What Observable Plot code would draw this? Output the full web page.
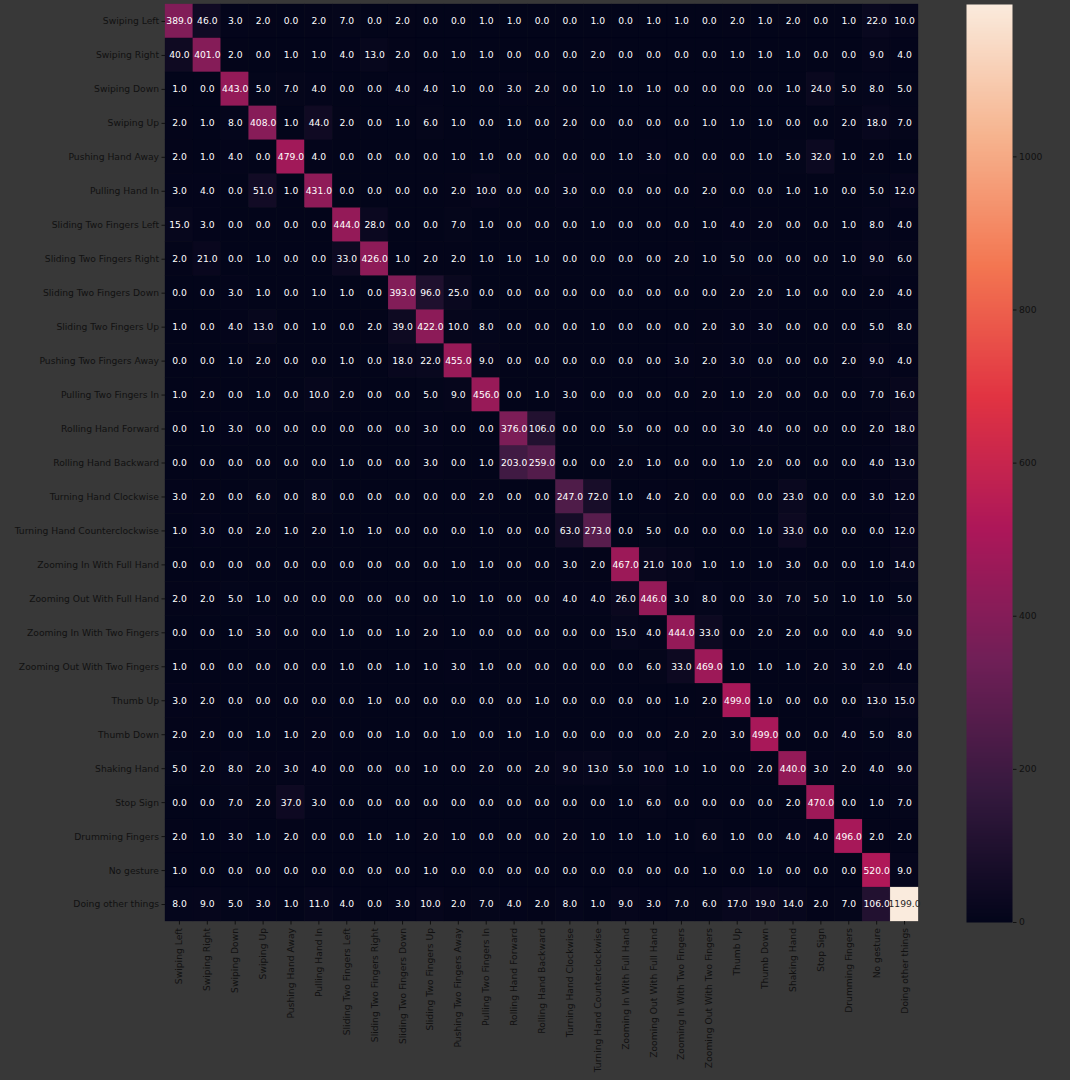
<!DOCTYPE html>
<html><head><meta charset="utf-8">
<script src="https://cdn.jsdelivr.net/npm/d3@7"></script>
<script src="https://cdn.jsdelivr.net/npm/@observablehq/plot@0.6"></script>
<style>
html,body{margin:0;padding:0;background:#383838;}
#wrap{position:relative;width:1070px;height:1080px;background:#383838;overflow:hidden;}
#main{position:absolute;left:0;top:0;}
#cbar{position:absolute;left:940px;top:0;}
</style></head>
<body><div id="wrap"><div id="main"></div><div id="cbar"></div></div>
<script>
const labels = ["Swiping Left","Swiping Right","Swiping Down","Swiping Up","Pushing Hand Away","Pulling Hand In","Sliding Two Fingers Left","Sliding Two Fingers Right","Sliding Two Fingers Down","Sliding Two Fingers Up","Pushing Two Fingers Away","Pulling Two Fingers In","Rolling Hand Forward","Rolling Hand Backward","Turning Hand Clockwise","Turning Hand Counterclockwise","Zooming In With Full Hand","Zooming Out With Full Hand","Zooming In With Two Fingers","Zooming Out With Two Fingers","Thumb Up","Thumb Down","Shaking Hand","Stop Sign","Drumming Fingers","No gesture","Doing other things"];

// rows = actual class, columns = predicted class
const counts = [
[389,46,3,2,0,2,7,0,2,0,0,1,1,0,0,1,0,1,1,0,2,1,2,0,1,22,10],
[40,401,2,0,1,1,4,13,2,0,1,1,0,0,0,2,0,0,0,0,1,1,1,0,0,9,4],
[1,0,443,5,7,4,0,0,4,4,1,0,3,2,0,1,1,1,0,0,0,0,1,24,5,8,5],
[2,1,8,408,1,44,2,0,1,6,1,0,1,0,2,0,0,0,0,1,1,1,0,0,2,18,7],
[2,1,4,0,479,4,0,0,0,0,1,1,0,0,0,0,1,3,0,0,0,1,5,32,1,2,1],
[3,4,0,51,1,431,0,0,0,0,2,10,0,0,3,0,0,0,0,2,0,0,1,1,0,5,12],
[15,3,0,0,0,0,444,28,0,0,7,1,0,0,0,1,0,0,0,1,4,2,0,0,1,8,4],
[2,21,0,1,0,0,33,426,1,2,2,1,1,1,0,0,0,0,2,1,5,0,0,0,1,9,6],
[0,0,3,1,0,1,1,0,393,96,25,0,0,0,0,0,0,0,0,0,2,2,1,0,0,2,4],
[1,0,4,13,0,1,0,2,39,422,10,8,0,0,0,1,0,0,0,2,3,3,0,0,0,5,8],
[0,0,1,2,0,0,1,0,18,22,455,9,0,0,0,0,0,0,3,2,3,0,0,0,2,9,4],
[1,2,0,1,0,10,2,0,0,5,9,456,0,1,3,0,0,0,0,2,1,2,0,0,0,7,16],
[0,1,3,0,0,0,0,0,0,3,0,0,376,106,0,0,5,0,0,0,3,4,0,0,0,2,18],
[0,0,0,0,0,0,1,0,0,3,0,1,203,259,0,0,2,1,0,0,1,2,0,0,0,4,13],
[3,2,0,6,0,8,0,0,0,0,0,2,0,0,247,72,1,4,2,0,0,0,23,0,0,3,12],
[1,3,0,2,1,2,1,1,0,0,0,1,0,0,63,273,0,5,0,0,0,1,33,0,0,0,12],
[0,0,0,0,0,0,0,0,0,0,1,1,0,0,3,2,467,21,10,1,1,1,3,0,0,1,14],
[2,2,5,1,0,0,0,0,0,0,1,1,0,0,4,4,26,446,3,8,0,3,7,5,1,1,5],
[0,0,1,3,0,0,1,0,1,2,1,0,0,0,0,0,15,4,444,33,0,2,2,0,0,4,9],
[1,0,0,0,0,0,1,0,1,1,3,1,0,0,0,0,0,6,33,469,1,1,1,2,3,2,4],
[3,2,0,0,0,0,0,1,0,0,0,0,0,1,0,0,0,0,1,2,499,1,0,0,0,13,15],
[2,2,0,1,1,2,0,0,1,0,1,0,1,1,0,0,0,0,2,2,3,499,0,0,4,5,8],
[5,2,8,2,3,4,0,0,0,1,0,2,0,2,9,13,5,10,1,1,0,2,440,3,2,4,9],
[0,0,7,2,37,3,0,0,0,0,0,0,0,0,0,0,1,6,0,0,0,0,2,470,0,1,7],
[2,1,3,1,2,0,0,1,1,2,1,0,0,0,2,1,1,1,1,6,1,0,4,4,496,2,2],
[1,0,0,0,0,0,0,0,0,1,0,0,0,0,0,0,0,0,0,1,0,1,0,0,0,520,9],
[8,9,5,3,1,11,4,0,3,10,2,7,4,2,8,1,9,3,7,6,17,19,14,2,7,106,1199]
];

const colorbarTicks = [0,200,400,600,800,1000];
const rocketStops = ["#03051a","#35193e","#701f57","#ad1759","#e13342","#f37651","#f6b48f","#faebdd"];
const rocket = d3.piecewise(d3.interpolateRgb, rocketStops);

const vmax = d3.max(counts.flat());
const table = counts.flatMap((row, i) => row.map((v, j) => ({actual: labels[i], predicted: labels[j], value: v})));
const font = "'DejaVu Sans', sans-serif";
const fs = 9.2;

const main = Plot.plot({
  width: 930, height: 1080,
  marginLeft: 165, marginRight: 12, marginTop: 4, marginBottom: 159,
  style: {background: "#383838", color: "#111", fontFamily: font, fontSize: fs + "px"},
  x: {domain: labels, padding: 0, round: false, label: null},
  y: {domain: labels, padding: 0, round: false, label: null},
  color: {type: "linear", domain: [0, vmax], interpolate: rocket},
  marks: [
    Plot.cell(table, {x: "predicted", y: "actual", fill: "value", stroke: "value", strokeWidth: 0.3}),
    Plot.text(table.filter(d => d.value <= 900), {x: "predicted", y: "actual", text: d => d.value.toFixed(1), fill: "white", fontSize: fs}),
    Plot.text(table.filter(d => d.value > 900), {x: "predicted", y: "actual", text: d => d.value.toFixed(1), fill: "#262626", fontSize: fs}),
    Plot.axisX({anchor: "bottom", tickRotate: -90, tickSize: 3.5, tickPadding: 3, label: null, fontSize: fs}),
    Plot.axisY({anchor: "left", tickSize: 3.5, tickPadding: 3, label: null, fontSize: fs})
  ]
});
document.getElementById("main").appendChild(main);

const cbar = Plot.plot({
  width: 130, height: 1080,
  marginLeft: 26, marginRight: 58, marginTop: 4, marginBottom: 158,
  style: {background: "#383838", color: "#111", fontFamily: font, fontSize: fs + "px"},
  x: {domain: [0, 1], axis: null},
  y: {domain: [0, vmax], label: null},
  color: {type: "linear", domain: [0, vmax], interpolate: rocket},
  marks: [
    Plot.raster({x1: 0, x2: 1, y1: 0, y2: vmax, fill: (x, y) => y, width: 2, height: 600, imageRendering: "auto"}),
    Plot.axisY({anchor: "right", ticks: colorbarTicks, tickSize: 3.5, tickPadding: 3, label: null, tickFormat: d => String(d), fontSize: fs})
  ]
});
document.getElementById("cbar").appendChild(cbar);
</script>
</body></html>
